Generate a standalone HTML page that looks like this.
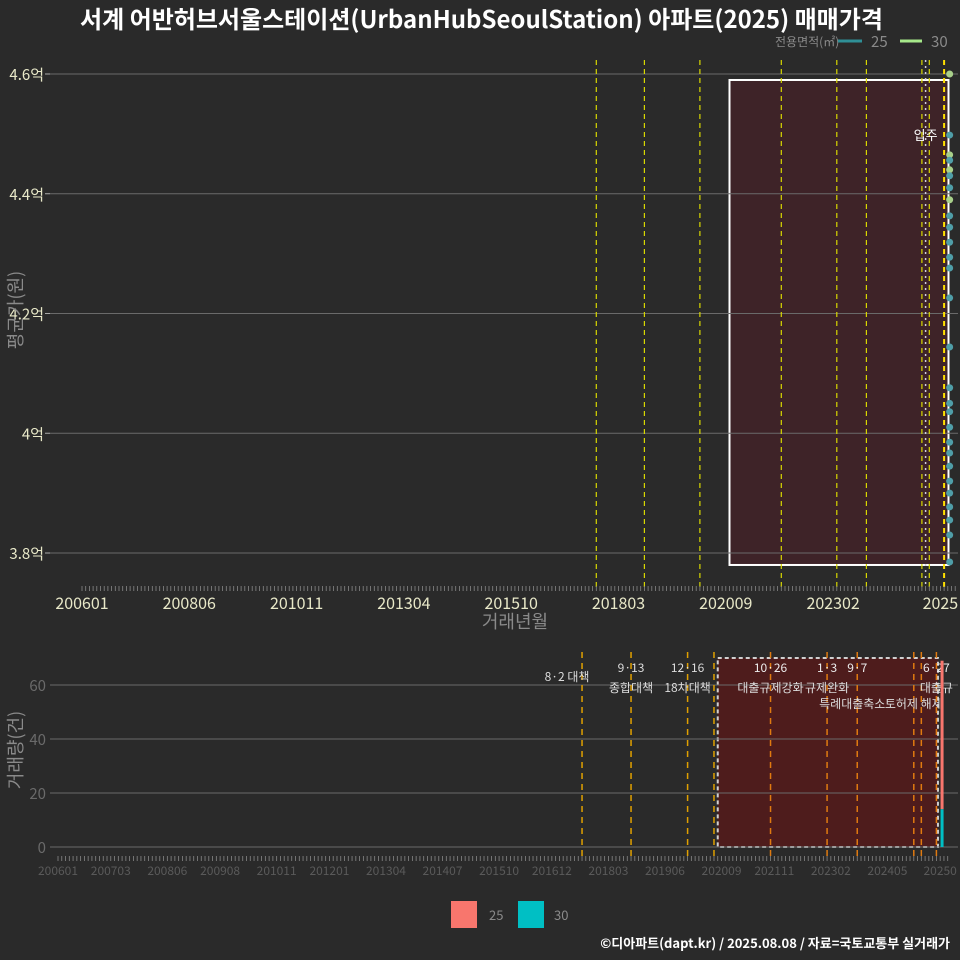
<!DOCTYPE html>
<html><head><meta charset="utf-8">
<style>
html,body{margin:0;padding:0;background:#2a2a2a;}
svg{display:block;font-family:"Noto Sans CJK KR","Liberation Sans",sans-serif;}
</style></head>
<body>
<svg id="c" width="960" height="960" viewBox="0 0 960 960" xmlns="http://www.w3.org/2000/svg">
<rect x="0" y="0" width="960" height="960" fill="#2a2a2a"/>
<text x="80" y="28" fill="#ffffff" font-size="24" font-weight="bold">서계 어반허브서울스테이션(UrbanHubSeoulStation) 아파트(2025) 매매가격</text>
<g>
<text x="775" y="46" fill="#8a8a8a" font-size="12">전용면적(㎡)</text>
<line x1="838" y1="41" x2="862" y2="41" stroke="#2f8f96" stroke-width="3"/>
<text x="871" y="47" fill="#8a8a8a" font-size="15">25</text>
<line x1="900" y1="41" x2="922" y2="41" stroke="#a6e88a" stroke-width="3"/>
<text x="931" y="47" fill="#8a8a8a" font-size="15">30</text>
</g>
<g id="top"></g>
<g id="bot"></g>
<g>
<rect x="451" y="901" width="26" height="27" fill="#f8766d"/>
<text x="489" y="920" fill="#8a8a8a" font-size="13">25</text>
<rect x="518" y="901" width="26" height="27" fill="#00bfc4"/>
<text x="554" y="920" fill="#8a8a8a" font-size="13">30</text>
</g>
<text x="950" y="948" text-anchor="end" fill="#ffffff" font-size="13" font-weight="bold">©디아파트(dapt.kr) / 2025.08.08 / 자료=국토교통부 실거래가</text>
</svg>
<script>
const NS="http://www.w3.org/2000/svg";
// data
const priceTicks=[3.8,4.0,4.2,4.4,4.6];
const priceTickLabels=["3.8억","4억","4.2억","4.4억","4.6억"];
const topXLabels=["200601","200806","201011","201304","201510","201803","202009","202302","2025"];
const botXLabels=["200601","200703","200806","200908","201011","201201","201304","201407","201510","201612","201803","201906","202009","202111","202302","202405","20250"];
const botXMonths=[0,14,29,43,58,72,87,102,117,131,146,161,176,190,205,220,234];
const volTicks=[0,20,40,60];
const policyMonths=[139,152,167,174,189,204,212,227,229,233];
const policyDates=["8·2 대책","9·13","12·16","","10·26","1·3","9·7","","","6·27"];
const policyNames=["","종합대책","18차대책","","대출규제강화","규제완화","특례대출축소","토허제 해제","","대출규"];
const moveInMonth=228;
const shadeStart=175, shadeEnd=235;
const shadeTop=4.59, shadeBottom=3.78;
const pts25=[4.498,4.456,4.43,4.41,4.363,4.344,4.319,4.294,4.276,4.226,4.144,4.076,4.05,4.036,4.01,3.985,3.967,3.945,3.92,3.9,3.877,3.855,3.83,3.785];
const pts30=[4.465,4.44,4.39,4.6];
const ptMonth=234.5;
const vol25=55, vol30=14, volMonth=234.5;

function mk(p,tag,attrs,name,text){const e=document.createElementNS(NS,tag);for(const k in attrs)e.setAttribute(k,attrs[k]);


if(text!==undefined)e.textContent=text;p.appendChild(e);return e;}

// top axes
const tx=m=>82+m*3.7, ty=v=>553-(v-3.8)/0.2*119.75;
const T=document.getElementById('top');
mk(T,'rect',{x:tx(shadeStart),y:ty(shadeTop),width:tx(shadeEnd)-tx(shadeStart)-3,height:ty(shadeBottom)-ty(shadeTop),fill:'#3e2328',stroke:'#ffffff','stroke-width':2},'covid-period-box');
priceTicks.forEach((v,i)=>{mk(T,'line',{x1:50,x2:958,y1:ty(v),y2:ty(v),stroke:'#6a6a6a','stroke-width':1},'y-gridline');
mk(T,'line',{x1:45,x2:50,y1:ty(v),y2:ty(v),stroke:'#aaa'},'y-tick');
mk(T,'text',{x:44,y:ty(v)+6,'text-anchor':'end',fill:'#e8e8c8','font-size':15},'y-tick-label',priceTickLabels[i]);});
policyMonths.forEach((m,i)=>{if(i==3)return;mk(T,'line',{x1:tx(m),x2:tx(m),y1:60,y2:588,stroke:i==9?'#ffe000':'#d8d800','stroke-width':i==9?2:1.2,'stroke-dasharray':'5,4'},'policy-line');});
mk(T,'line',{x1:tx(moveInMonth),x2:tx(moveInMonth),y1:60,y2:588,stroke:'#d0d0e0','stroke-width':1.5,'stroke-dasharray':'2,4'},'move-in-line');
mk(T,'text',{x:tx(moveInMonth)+12,y:140,'text-anchor':'end',fill:'#fff','font-size':13},'move-in-label','입주');
pts30.forEach(v=>mk(T,'circle',{cx:tx(ptMonth),cy:ty(v),r:3.5,fill:'#a8d08a'},'point-30'));
pts25.forEach(v=>mk(T,'circle',{cx:tx(ptMonth),cy:ty(v),r:3.5,fill:'#4f9ea8'},'point-25'));
for(let m=0;m<=236;m++)mk(T,'line',{x1:tx(m),x2:tx(m),y1:586,y2:591,stroke:'#888','stroke-width':0.8},'x-minor-tick');
topXLabels.forEach((l,i)=>mk(T,'text',{x:tx(i*29),y:609,'text-anchor':'middle',fill:'#e8e8c8','font-size':16},'x-tick-label',l));
mk(T,'text',{x:515,y:628,'text-anchor':'middle',fill:'#8a8a8a','font-size':18},'x-axis-title','거래년월');
mk(T,'text',{x:22,y:310,'text-anchor':'middle',fill:'#8a8a8a','font-size':18,transform:'rotate(-90 22 310)'},'y-axis-title','평균가(원)');

// bottom axes
const bx=m=>58+m*3.77, by=v=>847-v*2.7;
const B=document.getElementById('bot');
mk(B,'rect',{x:bx(shadeStart),y:by(70),width:bx(shadeEnd)-bx(shadeStart)-6,height:by(0)-by(70),fill:'#4e1c1c',stroke:'#d0d0d0','stroke-width':2,'stroke-dasharray':'4,3'},'covid-period-box-bottom');
volTicks.forEach(v=>{mk(B,'line',{x1:50,x2:958,y1:by(v),y2:by(v),stroke:'#6a6a6a'},'y-gridline');
mk(B,'text',{x:46,y:by(v)+6,'text-anchor':'end',fill:'#6a6a6a','font-size':15},'y-tick-label',String(v));});
policyMonths.forEach((m,i)=>{mk(B,'line',{x1:bx(m),x2:bx(m),y1:652,y2:857,stroke:i<4?'#e0a000':'#e07a10','stroke-width':1.5,'stroke-dasharray':'6,5'},'policy-line-bottom');
if(policyDates[i])mk(B,'text',{x:bx(m)+(i==0?-15:0),y:i==0?681:672,'text-anchor':'middle',fill:i<3?'#dddddd':'#eeeeee','font-size':12},'policy-date',policyDates[i]);
if(policyNames[i])mk(B,'text',{x:bx(m)+(i==6?-5:0),y:i>=6&&i<=7?708:692,'text-anchor':'middle',fill:'#dddddd','font-size':12},'policy-name',policyNames[i]);});
mk(B,'rect',{x:bx(volMonth)-1.5,y:by(vol25+vol30),width:3,height:by(0)-by(vol25),fill:'#f8766d'},'bar-25');
mk(B,'rect',{x:bx(volMonth)-1.5,y:by(vol30),width:3,height:by(0)-by(vol30),fill:'#00bfc4'},'bar-30');
for(let m=0;m<=236;m++)mk(B,'line',{x1:bx(m),x2:bx(m),y1:856,y2:861,stroke:'#888','stroke-width':0.8},'x-minor-tick');
botXLabels.forEach((l,i)=>mk(B,'text',{x:bx(botXMonths[i]),y:875,'text-anchor':'middle',fill:'#5a5a5a','font-size':12},'x-tick-label',l));
mk(B,'text',{x:22,y:750,'text-anchor':'middle',fill:'#8a8a8a','font-size':18,transform:'rotate(-90 22 750)'},'y-axis-title-bottom','거래량(건)');
</script>
</body></html>
